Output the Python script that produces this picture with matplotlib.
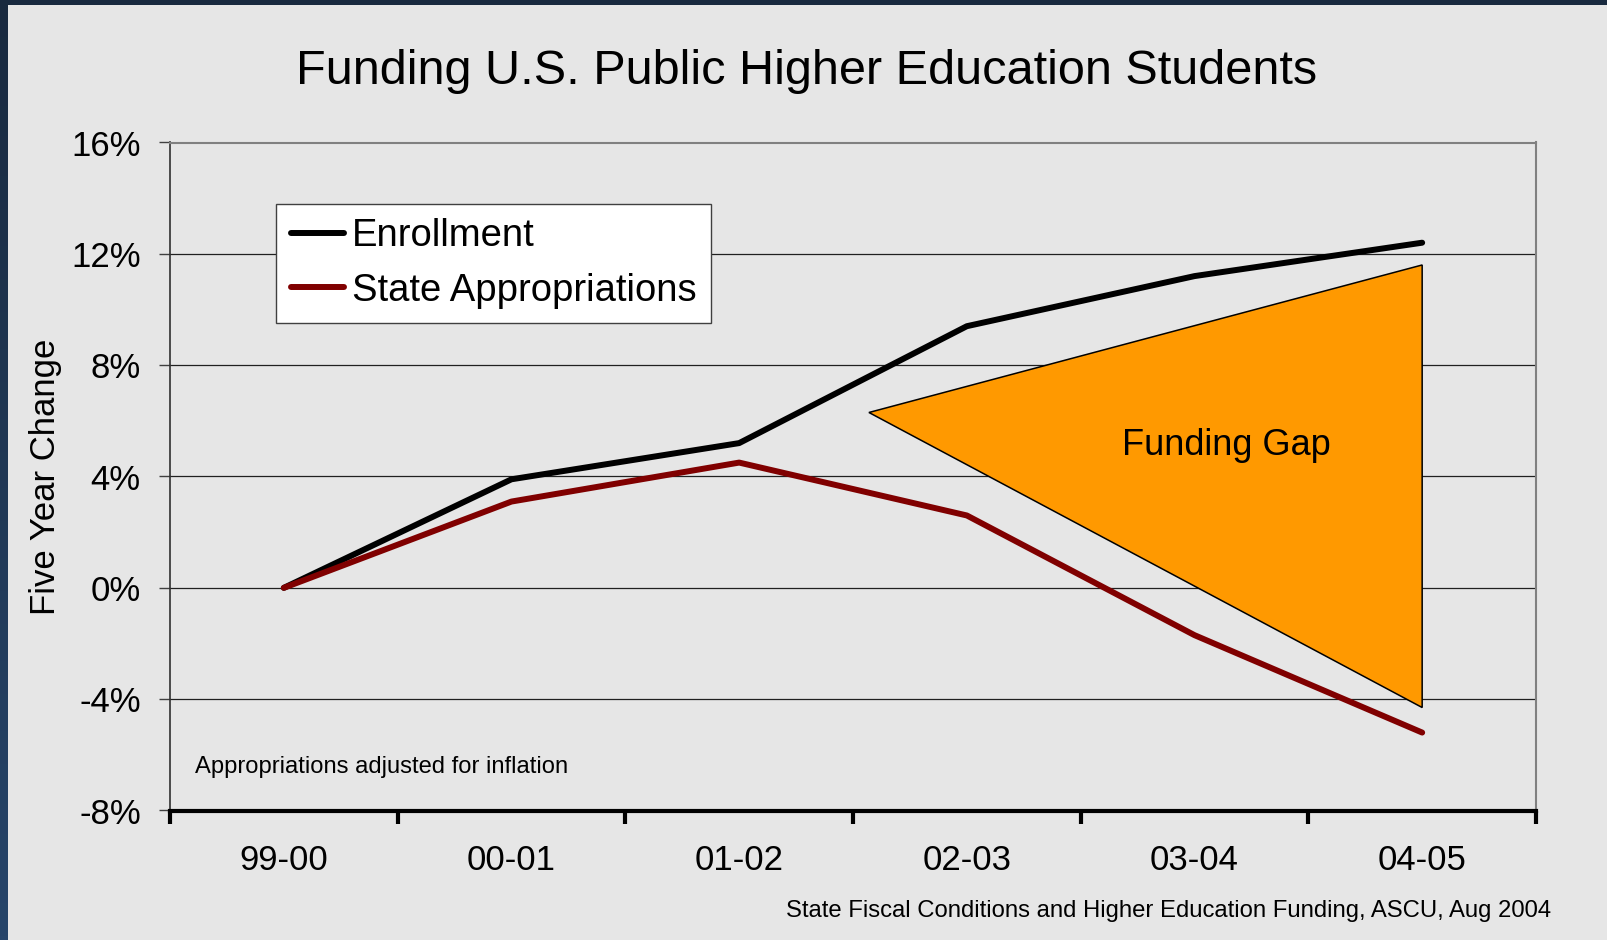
import numpy as np
import matplotlib
matplotlib.use('Agg')
import matplotlib.pyplot as plt
from matplotlib.patches import Polygon

plt.rcParams['font.family'] = ['Liberation Sans', 'DejaVu Sans']

# Five year change, percent
years = ['99-00', '00-01', '01-02', '02-03', '03-04', '04-05']
enrollment = [0.0, 3.9, 5.2, 9.4, 11.2, 12.4]
appropriations = [0.0, 3.1, 4.5, 2.6, -1.7, -5.2]
y_ticks = [-8, -4, 0, 4, 8, 12, 16]
y_labels = ['-8%', '-4%', '0%', '4%', '8%', '12%', '16%']

# Funding gap wedge (x in category units, y in percent)
gap_x = [2.57, 5.0, 5.0]
gap_y = [6.3, 11.6, -4.3]

bg = '#e6e6e6'
fig = plt.figure(figsize=(16.08, 9.40), dpi=100, facecolor=bg)

# dark slide frame along top and left edges
frame_top = fig.add_axes([0, 1 - 5 / 940, 1, 5 / 940])
frame_top.set_axis_off()
frame_top.add_patch(plt.Rectangle((0, 0), 1, 1, color='#192a3f', transform=frame_top.transAxes))
frame_left = fig.add_axes([0, 0, 8 / 1608, 1])
frame_left.set_axis_off()
grad = np.linspace(0, 1, 256).reshape(-1, 1)
frame_left.imshow(grad, aspect='auto', extent=[0, 1, 0, 1],
                  cmap=matplotlib.colors.LinearSegmentedColormap.from_list('frame', ['#27456a', '#192a3f']),
                  origin='lower')

ax = fig.add_axes([170 / 1608, 1 - 810.5 / 940, 1366 / 1608, 668 / 940])
ax.set_facecolor(bg)

x = np.arange(len(years))
ax.set_xlim(-0.5, len(years) - 0.5)
ax.set_ylim(-8, 16)

for v in y_ticks[1:-1]:
    ax.axhline(v, color='#202020', lw=0.9, zorder=1)

gap = Polygon(list(zip(gap_x, gap_y)), closed=True, facecolor='#ff9900',
              edgecolor='black', lw=1.1, zorder=2)
ax.add_patch(gap)
ax.text(4.14, 5.1, 'Funding Gap', fontsize=26, ha='center', va='center', zorder=3)

ax.plot(x, enrollment, color='black', lw=4.3, solid_capstyle='round',
        solid_joinstyle='round', label='Enrollment', zorder=4)
ax.plot(x, appropriations, color='#800000', lw=4.3, solid_capstyle='round',
        solid_joinstyle='round', label='State Appropriations', zorder=4)

# category boundaries get the tick marks, centres get the labels
ax.set_xticks(np.arange(-0.5, len(years)))
ax.set_xticklabels([])
ax.set_xticks(x, minor=True)
ax.set_xticklabels(years, minor=True, fontsize=25)
ax.tick_params(axis='x', which='major', direction='out', length=9, width=3, color='black')
ax.tick_params(axis='x', which='minor', length=0, pad=24)

ax.set_yticks(y_ticks)
ax.set_yticklabels(y_labels, fontsize=25)
ax.tick_params(axis='y', direction='out', length=8, width=1, color='#404040', pad=13)

ax.spines['left'].set_color('#303030')
ax.spines['left'].set_linewidth(1.2)
ax.spines['bottom'].set_color('black')
ax.spines['bottom'].set_linewidth(3)
for side in ('top', 'right'):
    ax.spines[side].set_color('#808080')
    ax.spines[side].set_linewidth(1.5)

ax.set_ylabel('Five Year Change', fontsize=25)
ax.yaxis.set_label_coords(-0.079, 0.5)

leg = ax.legend(loc='upper left', bbox_to_anchor=(0.0776, 0.908), fontsize=27.5,
                frameon=True, fancybox=False, edgecolor='#404040', facecolor='white',
                framealpha=1, handlelength=1.4, handletextpad=0.2, borderpad=0.38,
                labelspacing=0.48, borderaxespad=0)
leg.get_frame().set_linewidth(1)
leg.set_zorder(5)

fig.text(195 / 1608, 1 - 767 / 940, 'Appropriations adjusted for inflation',
         fontsize=17.1, ha='left', va='center')

fig.text(807 / 1608, 1 - 71 / 940, 'Funding U.S. Public Higher Education Students',
         fontsize=35, ha='center', va='center')
fig.text(1551 / 1608, 1 - 911 / 940,
         'State Fiscal Conditions and Higher Education Funding, ASCU, Aug 2004',
         fontsize=17.2, ha='right', va='center')

fig.savefig('out.png', dpi=100, facecolor=bg)
